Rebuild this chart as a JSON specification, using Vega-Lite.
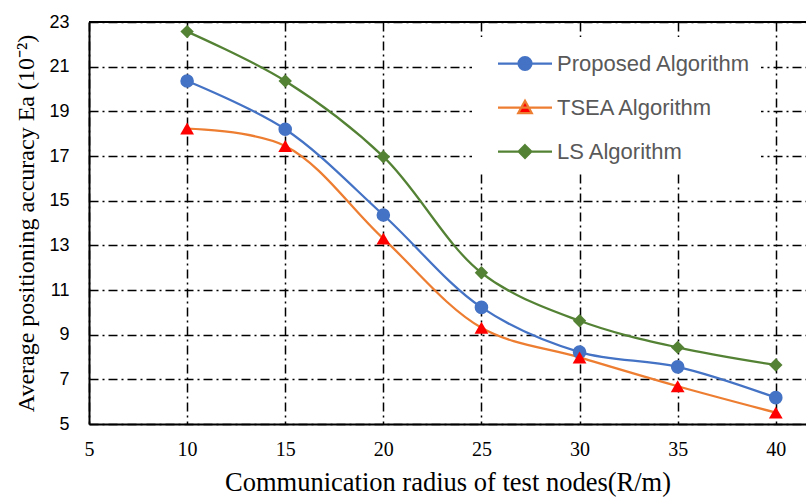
{
  "$schema": "https://vega.github.io/schema/vega-lite/v6.json",
  "width": 717,
  "height": 402,
  "autosize": {"type": "none"},
  "padding": {"left": 89, "top": 22, "right": 0, "bottom": 74},
  "background": "white",
  "config": {"view": {"stroke": null}},
  "data": {
    "values": [
      {"series": "Proposed Algorithm", "radius": 10, "accuracy": 20.36},
      {"series": "Proposed Algorithm", "radius": 15, "accuracy": 18.2},
      {"series": "Proposed Algorithm", "radius": 20, "accuracy": 14.36},
      {"series": "Proposed Algorithm", "radius": 25, "accuracy": 10.22},
      {"series": "Proposed Algorithm", "radius": 30, "accuracy": 8.22},
      {"series": "Proposed Algorithm", "radius": 35, "accuracy": 7.56},
      {"series": "Proposed Algorithm", "radius": 40, "accuracy": 6.18},
      {"series": "TSEA Algorithm", "radius": 10, "accuracy": 18.23},
      {"series": "TSEA Algorithm", "radius": 15, "accuracy": 17.45},
      {"series": "TSEA Algorithm", "radius": 20, "accuracy": 13.3},
      {"series": "TSEA Algorithm", "radius": 25, "accuracy": 9.31},
      {"series": "TSEA Algorithm", "radius": 30, "accuracy": 7.98},
      {"series": "TSEA Algorithm", "radius": 35, "accuracy": 6.69},
      {"series": "TSEA Algorithm", "radius": 40, "accuracy": 5.51},
      {"series": "LS Algorithm", "radius": 10, "accuracy": 22.57},
      {"series": "LS Algorithm", "radius": 15, "accuracy": 20.36},
      {"series": "LS Algorithm", "radius": 20, "accuracy": 16.97},
      {"series": "LS Algorithm", "radius": 25, "accuracy": 11.77},
      {"series": "LS Algorithm", "radius": 30, "accuracy": 9.62},
      {"series": "LS Algorithm", "radius": 35, "accuracy": 8.43},
      {"series": "LS Algorithm", "radius": 40, "accuracy": 7.64}
    ]
  },
  "layer": [
    {
      "mark": {"type": "line", "interpolate": "catmull-rom", "strokeWidth": 2.25},
      "encoding": {
        "x": {
          "field": "radius", "type": "quantitative",
          "scale": {"domain": [5, 41.54], "nice": false, "zero": false},
          "axis": {
            "values": [5, 10, 15, 20, 25, 30, 35, 40],
            "title": "Communication radius of test nodes(R/m)",
            "grid": true, "gridColor": "black", "gridDash": [9, 4, 2, 4], "gridWidth": 1.5, "gridOpacity": 1,
            "ticks": false, "domainColor": "black", "domainWidth": 2,
            "labelFont": "Liberation Serif", "labelFontSize": 20, "labelColor": "black", "labelPadding": 15, "labelFlush": false,
            "titleFont": "Liberation Serif", "titleFontSize": 26.5, "titleFontWeight": "normal", "titleColor": "black", "titlePadding": 10
          }
        },
        "y": {
          "field": "accuracy", "type": "quantitative",
          "scale": {"domain": [5, 23], "nice": false, "zero": false},
          "axis": {
            "values": [5, 7, 9, 11, 13, 15, 17, 19, 21, 23],
            "title": "Average positioning accuracy Ea (10⁻²)",
            "grid": true, "gridColor": "black", "gridDash": [9, 4, 2, 4], "gridWidth": 1.5, "gridOpacity": 1,
            "ticks": false, "domainColor": "black", "domainWidth": 2,
            "labelFont": "Liberation Sans", "labelFontSize": 18, "labelColor": "black", "labelPadding": 20, "labelFlush": false,
            "titleFont": "Liberation Serif", "titleFontSize": 24, "titleFontWeight": "normal", "titleColor": "black", "titlePadding": 10
          }
        },
        "color": {
          "field": "series", "type": "nominal",
          "scale": {"domain": ["Proposed Algorithm", "TSEA Algorithm", "LS Algorithm"], "range": ["#4472C4", "#ED7D31", "#548235"]},
          "legend": {
            "orient": "none", "legendX": 383, "legendY": 15, "title": null,
            "fillColor": "white", "padding": 10,
            "symbolSize": 900, "symbolStrokeWidth": 2.25, "symbolOffset": 26.5, "labelOffset": 15.5, "rowPadding": 16,
            "labelFont": "Liberation Sans", "labelFontSize": 22, "labelColor": "#595959", "labelLimit": 320,
            "symbolType": "M-1.8,0H1.8",
            "encoding": {
              "symbols": {
                "shape": {"value": {"expr": "datum.value === 'Proposed Algorithm' ? 'M-1.8,0H1.8M-0.43,0A0.43,0.43,0,1,0,0.43,0A0.43,0.43,0,1,0,-0.43,0Z' : datum.value === 'TSEA Algorithm' ? 'M-1.8,0H1.8M0,-0.45L0.45,0.37L-0.45,0.37Z' : 'M-1.8,0H1.8M0,-0.42L0.42,0L0,0.42L-0.42,0Z'"}},
                "fill": {"value": {"expr": "datum.value === 'Proposed Algorithm' ? '#4472C4' : datum.value === 'TSEA Algorithm' ? '#FF0000' : '#548235'"}},
                "stroke": {"value": {"expr": "datum.value === 'Proposed Algorithm' ? '#4472C4' : datum.value === 'TSEA Algorithm' ? '#ED7D31' : '#548235'"}},
                "strokeWidth": {"value": 2.25},
                "opacity": {"value": 1}
              }
            }
          }
        }
      }
    },
    {
      "mark": {"type": "point", "filled": true, "opacity": 1},
      "encoding": {
        "x": {"field": "radius", "type": "quantitative"},
        "y": {"field": "accuracy", "type": "quantitative"},
        "shape": {"field": "series", "type": "nominal", "scale": {"domain": ["LS Algorithm", "Proposed Algorithm", "TSEA Algorithm"], "range": ["diamond", "circle", "triangle-up"]}, "legend": null},
        "fill": {"field": "series", "type": "nominal", "scale": {"domain": ["LS Algorithm", "Proposed Algorithm", "TSEA Algorithm"], "range": ["#548235", "#4472C4", "#FF0000"]}, "legend": null},
        "size": {"field": "series", "type": "nominal", "scale": {"domain": ["LS Algorithm", "Proposed Algorithm", "TSEA Algorithm"], "range": [180, 190, 225]}, "legend": null}
      }
    },
    {
      "mark": {"type": "rule", "color": "black", "strokeWidth": 2},
      "encoding": {"y": {"datum": 23, "type": "quantitative"}}
    }
  ]
}
